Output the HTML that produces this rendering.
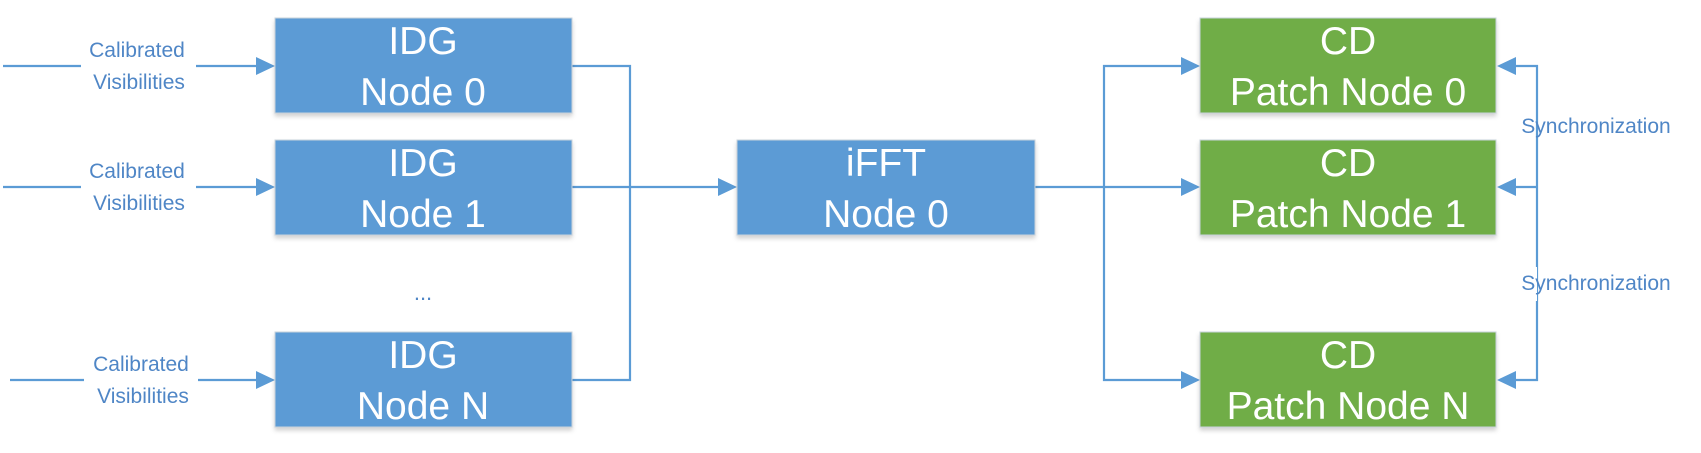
<!DOCTYPE html>
<html><head><meta charset="utf-8"><style>
html,body{margin:0;padding:0;background:#fff;}
svg{display:block;}
text{font-family:"Liberation Sans Narrow","Liberation Sans",sans-serif;}
</style></head><body>
<svg width="1701" height="453" viewBox="0 0 1701 453" xmlns="http://www.w3.org/2000/svg">
<defs>
<filter id="sh" x="-5%" y="-5%" width="110%" height="120%"><feDropShadow dx="0" dy="3" stdDeviation="2" flood-color="#000" flood-opacity="0.18"/></filter>
</defs>
<g fill="none" stroke="#5B9BD5" stroke-width="2.2">
<line x1="3" y1="66" x2="81" y2="66"/><line x1="196" y1="66" x2="258" y2="66"/>
<line x1="3" y1="187" x2="81" y2="187"/><line x1="196" y1="187" x2="258" y2="187"/>
<line x1="10" y1="380" x2="84" y2="380"/><line x1="198" y1="380" x2="258" y2="380"/>
<polyline points="572,66 630,66 630,380 572,380"/>
<line x1="572" y1="187" x2="720" y2="187"/>
<line x1="1035" y1="187" x2="1182" y2="187"/>
<polyline points="1182,66 1104,66 1104,380 1182,380"/>
<polyline points="1514,66 1537,66 1537,380 1514,380"/>
<line x1="1514" y1="187" x2="1537" y2="187"/>
</g>
<g fill="#5B9BD5">
<polygon points="256,57 275,66 256,75"/>
<polygon points="256,178 275,187 256,196"/>
<polygon points="256,371 275,380 256,389"/>
<polygon points="718,178 737,187 718,196"/>
<polygon points="1181,57 1200,66 1181,75"/>
<polygon points="1181,178 1200,187 1181,196"/>
<polygon points="1181,371 1200,380 1181,389"/>
<polygon points="1516,57 1497,66 1516,75"/>
<polygon points="1516,178 1497,187 1516,196"/>
<polygon points="1516,371 1497,380 1516,389"/>
</g>
<g filter="url(#sh)" stroke="#c9d3dc" stroke-width="1">
<rect x="275" y="18" width="297" height="95" fill="#5B9BD5"/>
<rect x="275" y="140" width="297" height="95" fill="#5B9BD5"/>
<rect x="275" y="332" width="297" height="95" fill="#5B9BD5"/>
<rect x="737" y="140" width="298" height="95" fill="#5B9BD5"/>
<rect x="1200" y="18" width="296" height="95" fill="#70AD47"/>
<rect x="1200" y="140" width="296" height="95" fill="#70AD47"/>
<rect x="1200" y="332" width="296" height="95" fill="#70AD47"/>
</g>
<g fill="#fff" font-size="39" text-anchor="middle">
<text x="423" y="54">IDG</text><text x="423" y="105">Node 0</text>
<text x="423" y="176">IDG</text><text x="423" y="227">Node 1</text>
<text x="423" y="368">IDG</text><text x="423" y="419">Node N</text>
<text x="886" y="176">iFFT</text><text x="886" y="227">Node 0</text>
<text x="1348" y="54">CD</text><text x="1348" y="105">Patch Node 0</text>
<text x="1348" y="176">CD</text><text x="1348" y="227">Patch Node 1</text>
<text x="1348" y="368">CD</text><text x="1348" y="419">Patch Node N</text>
</g>
<g fill="#4F86C6" font-size="21" text-anchor="middle">
<text x="137" y="57">Calibrated</text>
<text x="139" y="89">Visibilities</text>
<text x="137" y="178">Calibrated</text>
<text x="139" y="210">Visibilities</text>
<text x="141" y="371">Calibrated</text>
<text x="143" y="403">Visibilities</text>
</g>
<rect x="1525" y="267" width="12" height="34" fill="#fff"/>
<g fill="#4F86C6" font-size="21" text-anchor="middle">
<text x="1596" y="133">Synchronization</text>
<text x="1596" y="290">Synchronization</text>
<text x="423" y="300" font-size="22">...</text>
</g>
</svg>
</body></html>
